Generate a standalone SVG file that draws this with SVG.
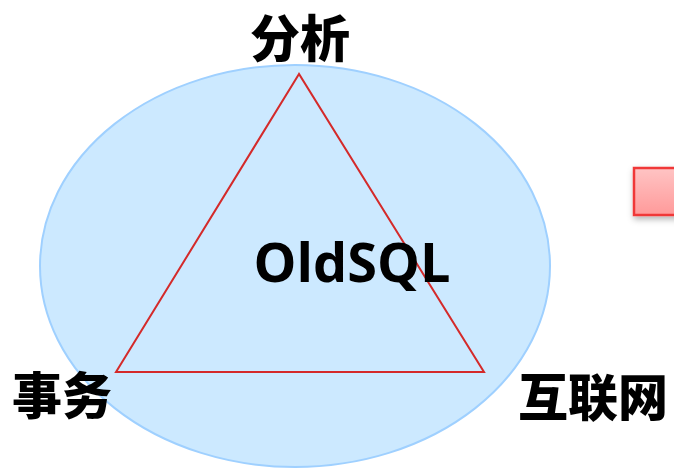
<svg xmlns="http://www.w3.org/2000/svg" width="674" height="468" viewBox="0 0 674 468">
<defs>
<linearGradient id="redg" x1="0" y1="0" x2="0" y2="1">
<stop offset="0" stop-color="#ffc4c4"/>
<stop offset="1" stop-color="#ff9a9a"/>
</linearGradient>
<filter id="sh" x="-30%" y="-30%" width="160%" height="160%">
<feDropShadow dx="1" dy="3" stdDeviation="3" flood-color="#000" flood-opacity="0.3"/>
</filter>
</defs>
<style>
.cjk{font-family:"Noto Sans CJK SC","Noto Sans",sans-serif;font-weight:900;font-size:50px;fill:#000}
.lat{font-family:"Open Sans","Noto Sans",sans-serif;font-weight:bold;font-size:54px;fill:#000}
</style>
<rect width="674" height="468" fill="#fff"/>
<g id="ellipse">
<ellipse cx="295" cy="266" rx="255" ry="201" fill="#cce9ff" stroke="#9fd0ff" stroke-width="2"/>
</g>
<g id="connectors">
<polygon points="299,74 116,372 484,372" fill="none" stroke="#d42a2a" stroke-width="2"/>
</g>
<g id="node-top"><text class="cjk" x="300" y="57" text-anchor="middle">分析</text></g>
<g id="node-left"><text class="cjk" x="62" y="414" text-anchor="middle">事务</text></g>
<g id="node-right"><text class="cjk" x="593" y="416" text-anchor="middle">互联网</text></g>
<g id="center"><text class="lat" x="352" y="282" text-anchor="middle">OldSQL</text></g>
<g id="redbox"><rect x="634" y="168" width="60" height="47" fill="url(#redg)" stroke="#f03838" stroke-width="2.5" filter="url(#sh)"/></g>
</svg>
